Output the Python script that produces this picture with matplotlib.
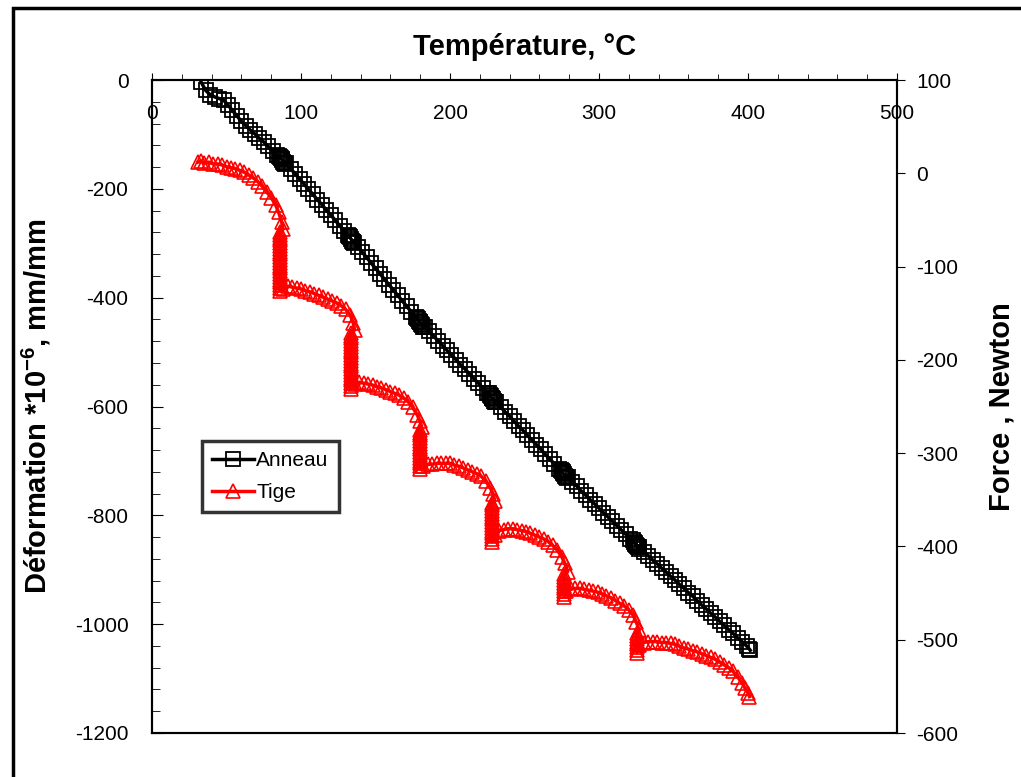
import matplotlib.pyplot as plt
from matplotlib.ticker import MultipleLocator
from matplotlib.patches import Rectangle

plt.rcParams['font.family'] = ['Liberation Sans', 'DejaVu Sans']
plt.rcParams['mathtext.fontset'] = 'custom'
plt.rcParams['mathtext.rm'] = 'Liberation Sans'
plt.rcParams['mathtext.bf'] = 'Liberation Sans:bold'
plt.rcParams['axes.unicode_minus'] = False

# Anneau : déformation (1e-6 mm/mm) en fonction de la température (°C)
anneau_T = [33, 36, 39, 42, 45, 48, 51, 54, 57, 60, 63, 66, 69, 72, 75, 78, 81, 84, 87,
            90, 93, 96, 99, 102, 105, 108, 111, 114, 117, 120, 123, 126, 129, 132, 135,
            138, 141, 144, 147, 150, 153, 156, 159, 162, 165, 168, 171, 174, 177, 180,
            183, 186, 189, 192, 195, 198, 201, 204, 207, 210, 213, 216, 219, 222, 225, 228,
            231, 234, 237, 240, 243, 246, 249, 252, 255, 258, 261, 264, 267, 270, 273, 276,
            279, 282, 285, 288, 291, 294, 297, 300, 303, 306, 309, 312, 315, 318, 321, 324,
            327, 330, 333, 336, 339, 342, 345, 348, 351, 354, 357, 360, 363, 366, 369,
            372, 375, 378, 381, 384, 387, 390, 393, 396, 399, 401, 401.5]
anneau_D = [-4, -19, -27, -31, -34, -37, -46, -56, -66, -76, -84, -92, -99, -107, -114, -122, -130, -138, -146,
            -153, -163, -172, -182, -191, -201, -210, -220, -229, -239, -248, -258, -268, -277, -287, -297,
            -306, -316, -326, -336, -346, -356, -366, -376, -386, -396, -406, -416, -426, -436, -445,
            -454, -462, -471, -479, -488, -497, -505, -514, -523, -531, -540, -549, -557, -566, -575, -584,
            -592, -601, -610, -618, -627, -636, -644, -653, -662, -670, -679, -688, -697, -705, -714, -723,
            -730, -738, -746, -755, -763, -771, -779, -787, -795, -803, -811, -819, -827, -835, -843, -852,
            -859, -867, -874, -882, -889, -897, -904, -912, -919, -927, -934, -942, -949, -957, -965,
            -972, -980, -987, -995, -1002, -1010, -1017, -1025, -1032, -1040, -1046, -1048]

# Anneau : paliers de température (points accumulés)
palier_T = [85, 85.7, 86.4, 87, 87.6, 88.3, 89,
            131.6, 132.3, 133, 133.6, 134.2, 134.9, 135.6,
            178, 178.7, 179.4, 180, 180.6, 181.3, 182,
            226, 226.7, 227.4, 228, 228.6, 229.3, 230,
            274.5, 275.2, 275.9, 276.5, 277.1, 277.8, 278.5,
            323, 323.7, 324.4, 325, 325.6, 326.3, 327]
palier_D = [-139, -141.5, -144, -147, -150, -152.5, -155,
            -284, -287, -289, -292, -295, -297, -300,
            -437, -440, -442, -445, -448, -450, -453,
            -576, -579, -581, -584, -587, -589, -592,
            -716, -719, -721, -724, -727, -729, -732,
            -846, -849, -851, -854, -857, -859, -862]

# Tige : force (N) en fonction de la température (°C)
tige_T = [31, 33, 35, 38, 41, 44, 47, 50, 53, 56, 59, 62, 65, 68, 71, 74, 77, 80, 83, 85, 87, 88,
          86, 86, 86, 86, 86, 86, 86, 86, 86, 86, 86, 86, 86, 86, 86, 86, 86, 86, 86, 86, 86, 86,
          88, 91, 94, 97, 100, 103, 106, 109, 112, 115, 118, 121, 124, 127, 130, 133, 135, 136,
          133.5, 133.5, 133.5, 133.5, 133.5, 133.5, 133.5, 133.5, 133.5, 133.5, 133.5,
          133.5, 133.5, 133.5, 133.5, 133.5, 133.5, 133.5, 133.5, 133.5, 133.5,
          136, 139, 142, 145, 148, 151, 154, 157, 160, 163, 166, 169, 172, 175, 178, 180, 181,
          180, 180, 180, 180, 180, 180, 180, 180, 180, 180, 180, 180, 180, 180, 180,
          182, 185, 188, 191, 194, 197, 200, 203, 206, 209, 212, 215, 218, 221, 224, 227, 229, 230,
          228, 228, 228, 228, 228, 228, 228, 228, 228, 228, 228, 228, 228, 228, 228,
          230, 233, 236, 239, 242, 245, 248, 251, 254, 257, 260, 263, 266, 269, 272, 275, 277, 279,
          276.5, 276.5, 276.5, 276.5, 276.5, 276.5, 276.5, 276.5, 276.5,
          278, 281, 284, 287, 290, 293, 296, 299, 302, 305, 308, 311, 314, 317, 320, 323, 325, 327,
          325.5, 325.5, 325.5, 325.5, 325.5, 325.5, 325.5, 325.5,
          327, 330, 333, 336, 339, 342, 345, 348, 351, 354, 357, 360, 363, 366, 369, 372, 375, 378,
          381, 384, 387, 390, 393, 396, 398, 400, 401]
tige_F = [12, 13, 11, 12, 10, 10, 9, 7, 6, 5, 3, 1, -2, -5, -9, -14, -20, -26, -34, -42, -52, -60,
          -63, -66, -69, -72, -75, -78, -81, -84, -87, -90, -93, -96, -99, -102, -105, -108, -111, -114,
          -117, -120, -123, -126,
          -124, -121, -122, -123, -124, -126, -127, -129, -131, -133, -135, -137, -139, -142, -146, -152, -160, -168,
          -171, -174, -177, -180, -183, -186, -189, -192, -195, -198, -201,
          -204, -207, -210, -213, -216, -219, -222, -225, -228, -231,
          -226, -224, -225, -226, -227, -229, -230, -232, -234, -236, -238, -241, -245, -251, -259, -266, -272,
          -275, -278, -281, -284, -287, -290, -293, -296, -299, -302, -305, -308, -311, -314, -317,
          -314, -312, -312, -311, -311, -311, -311, -313, -314, -316, -318, -320, -322, -325, -330, -337, -344, -351,
          -353, -356, -359, -362, -365, -368, -371, -374, -377, -380, -383, -386, -389, -392, -395,
          -388, -383, -382, -381, -381, -382, -383, -384, -386, -388, -390, -392, -395, -399, -404, -411, -418, -427,
          -430, -433, -436, -439, -442, -445, -448, -451, -454,
          -448, -446, -445, -445, -446, -447, -448, -449, -451, -453, -455, -458, -461, -464, -468, -474, -481, -490,
          -493, -496, -499, -502, -505, -508, -511, -514,
          -506, -503, -502, -502, -502, -503, -503, -504, -505, -507, -509, -510, -512, -513, -515, -517, -519, -521,
          -524, -527, -530, -534, -540, -546, -552, -557, -561]

fig = plt.figure(figsize=(10.21, 7.77), dpi=100)
fig.patches.append(Rectangle((13 / 1021, -0.05), 1.2, 1 - 8 / 777 + 0.05, transform=fig.transFigure,
                             fill=False, edgecolor='black', linewidth=2.5))

ax = fig.add_axes([152 / 1021, 44 / 777, 745 / 1021, 653 / 777])
ax2 = ax.twinx()

style_a = dict(color='black', marker='s', markersize=10, markerfacecolor='none',
               markeredgecolor='black', markeredgewidth=1.3)
l1, = ax.plot(anneau_T, anneau_D, linewidth=2.5, label='Anneau', **style_a)
ax.plot(palier_T, palier_D, linestyle='none', **style_a)
l2, = ax2.plot(tige_T, tige_F, color='red', linewidth=2.5, marker='^', markersize=10.5,
               markerfacecolor='none', markeredgecolor='red', markeredgewidth=1.2, label='Tige')

ax.set_xlim(0, 500)
ax.set_ylim(-1200, 0)
ax2.set_ylim(-600, 100)

# axe des x en haut, étiquettes à l'intérieur
ax.xaxis.set_major_locator(MultipleLocator(100))
ax.xaxis.set_minor_locator(MultipleLocator(20))
ax.tick_params(axis='x', which='both', top=True, bottom=False, labeltop=True, labelbottom=False,
               direction='out', labelsize=15)
ax.tick_params(axis='x', which='major', length=5, pad=-36)
ax.tick_params(axis='x', which='minor', length=4)
ax.yaxis.set_major_locator(MultipleLocator(200))
ax.yaxis.set_minor_locator(MultipleLocator(40))
ax.tick_params(axis='y', which='both', direction='in', labelsize=15, pad=17)
ax.tick_params(axis='y', which='major', length=8)
ax.tick_params(axis='y', which='minor', length=6)

ax2.yaxis.set_major_locator(MultipleLocator(100))
ax2.tick_params(axis='y', direction='out', length=6, labelsize=15, pad=8)

for a in (ax, ax2):
    for s in a.spines.values():
        s.set_linewidth(1.5)

ax.set_title('Température, °C', fontsize=21, fontweight='bold', pad=18)
ax.set_ylabel(r'Déformation *10$^{\mathbf{-6}}$, mm/mm', fontsize=21, fontweight='bold')
ax.yaxis.set_label_coords(-0.133, 0.5)
ax2.set_ylabel('Force , Newton', fontsize=21, fontweight='bold')
ax2.yaxis.set_label_coords(1.122, 0.5)

leg = ax.legend([l1, l2], ['Anneau', 'Tige'], loc='lower left', bbox_to_anchor=(0.067, 0.338),
                borderaxespad=0, fancybox=False, edgecolor='black', fontsize=15, handlelength=2.0,
                handletextpad=0.1, borderpad=0.5, labelspacing=0.6)
leg.get_frame().set_linewidth(2.5)
leg.set_zorder(10)

fig.savefig('out.png', dpi=100)
